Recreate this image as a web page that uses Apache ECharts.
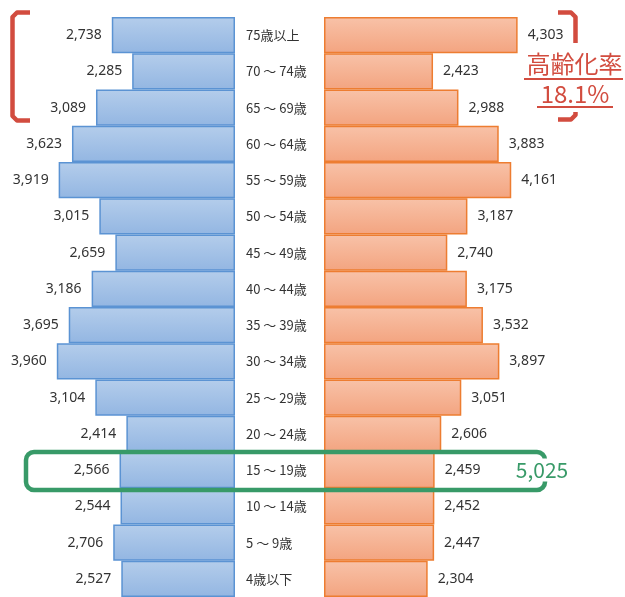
<!DOCTYPE html>
<html>
<head>
<meta charset="utf-8">
<script src="https://cdn.jsdelivr.net/npm/echarts@6/dist/echarts.min.js"></script>
<style>html,body{margin:0;padding:0;background:#fff}#c{width:625px;height:597px}</style>
</head>
<body>
<div id="c"></div>
<script>
var categories = ['75歳以上','70 ～ 74歳','65 ～ 69歳','60 ～ 64歳','55 ～ 59歳','50 ～ 54歳','45 ～ 49歳','40 ～ 44歳','35 ～ 39歳','30 ～ 34歳','25 ～ 29歳','20 ～ 24歳','15 ～ 19歳','10 ～ 14歳','5 ～ 9歳','4歳以下'];
var male = [2738,2285,3089,3623,3919,3015,2659,3186,3695,3960,3104,2414,2566,2544,2706,2527];
var female = [4303,2423,2988,3883,4161,3187,2740,3175,3532,3897,3051,2606,2459,2452,2447,2304];
var agingRateLabel = '高齢化率';
var agingRateValue = '18.1%';
var highlightTotal = '5,025';

function fmt(v){ return String(v).replace(/\B(?=(\d{3})+(?!\d))/g, ','); }

var chart = echarts.init(document.getElementById('c'));
var blueGrad = {type:'linear', x:0, y:0, x2:0, y2:1, colorStops:[{offset:0,color:'#b4cdeb'},{offset:1,color:'#93b6e2'}]};
var orangeGrad = {type:'linear', x:0, y:0, x2:0, y2:1, colorStops:[{offset:0,color:'#f8c2a8'},{offset:1,color:'#f3a480'}]};
var red = '#d24c3f';
var green = '#389a68';

chart.setOption({
  animation:false,
  grid:[
    {left:10, width:225, top:17, height:584},
    {left:324, width:225, top:17, height:584}
  ],
  xAxis:[
    {gridIndex:0, type:'value', min:0, max:5000, inverse:true, show:false},
    {gridIndex:1, type:'value', min:0, max:5000, show:false}
  ],
  yAxis:[
    {gridIndex:0, type:'category', data:categories, inverse:true, position:'right',
     axisLine:{show:false}, axisTick:{show:false}, splitLine:{show:false},
     axisLabel:{margin:11, align:'left', fontFamily:'Noto Sans CJK JP', fontSize:13, color:'#333'}},
    {gridIndex:1, type:'category', data:categories, inverse:true,
     axisLine:{show:false}, axisTick:{show:false}, splitLine:{show:false}, axisLabel:{show:false}}
  ],
  series:[
    {type:'bar', xAxisIndex:0, yAxisIndex:0, data:male, barCategoryGap:0,
     itemStyle:{color:blueGrad, borderColor:'#5b93d3', borderWidth:1.5},
     label:{show:true, position:'left', distance:10, formatter:function(p){return fmt(p.value);}, fontFamily:'Noto Sans', fontSize:14, color:'#333'}},
    {type:'bar', xAxisIndex:1, yAxisIndex:1, data:female, barCategoryGap:0,
     itemStyle:{color:orangeGrad, borderColor:'#ed7d31', borderWidth:1.5},
     label:{show:true, position:'right', distance:10, formatter:function(p){return fmt(p.value);}, fontFamily:'Noto Sans', fontSize:14, color:'#333'}}
  ],
  graphic:{elements:[
    {type:'polyline', z:100, shape:{points:[[30,12.5],[17,12.5],[12.5,17],[12.5,116],[17,120.5],[30,120.5]]},
     style:{fill:null, stroke:red, lineWidth:4.5, lineJoin:'round'}},
    {type:'polyline', z:100, shape:{points:[[558,12.5],[571,12.5],[575.5,17],[575.5,43]]},
     style:{fill:null, stroke:red, lineWidth:4.5, lineJoin:'round'}},
    {type:'polyline', z:100, shape:{points:[[575.5,112],[575.5,115],[571,119.5],[558,119.5]]},
     style:{fill:null, stroke:red, lineWidth:4.5, lineJoin:'round'}},
    {type:'text', z:100, x:574.5, y:63.5, style:{text:agingRateLabel, fill:red, fontFamily:'Noto Sans CJK JP', fontSize:24, align:'center', verticalAlign:'middle'}},
    {type:'line', z:100, shape:{x1:524, y1:79, x2:623, y2:79}, style:{stroke:red, lineWidth:2}},
    {type:'text', z:100, x:575, y:94, style:{text:agingRateValue, fill:red, fontFamily:'Noto Sans CJK JP', fontSize:24, align:'center', verticalAlign:'middle'}},
    {type:'line', z:100, shape:{x1:537, y1:107, x2:613, y2:107}, style:{stroke:red, lineWidth:2}},
    {type:'rect', z:100, shape:{x:26, y:452, width:519, height:38, r:8}, style:{fill:null, stroke:green, lineWidth:4.5}},
    {type:'text', z:101, x:542, y:470, style:{text:highlightTotal, fill:green, fontFamily:'Noto Sans CJK JP', fontSize:21, align:'center', verticalAlign:'middle', backgroundColor:'#fff', padding:[1,2]}}
  ]}
});
</script>
</body>
</html>
